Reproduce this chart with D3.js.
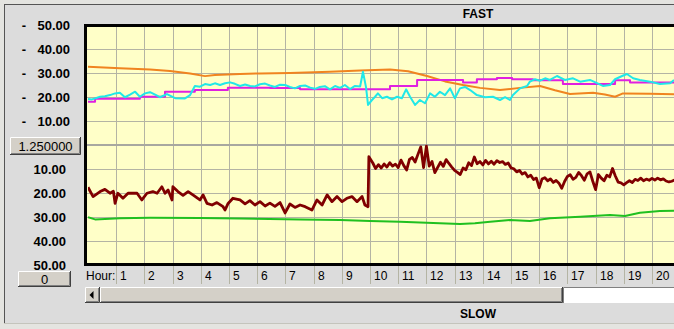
<!DOCTYPE html>
<html>
<head>
<meta charset="utf-8">
<script src="https://cdn.jsdelivr.net/npm/d3@7"></script>
<style>
  html, body { margin: 0; padding: 0; background: #e6e6e2; }
  svg { display: block; }
</style>
</head>
<body>
<svg id="chart" width="674" height="329"></svg>
<script>
// tick labels
const hourTicks = d3.range(1, 21);
const yTicks = [10, 20, 30, 40, 50];
const scaleButton = "1.250000";
const offsetButton = "0";

// FAST panel, [hour, value]
const orange = [[0,32.6],[1.13,32.0],[2.2,31.5],[2.91,30.8],[3.62,29.8],[4.15,28.7],[4.5,29.2],[5.39,29.6],
  [6.1,29.8],[7.16,30.0],[8.58,30.5],[9.65,31.0],[10.71,31.5],[11.35,30.7],[12.02,28.75],[12.66,26.5],
  [13.3,25.0],[13.9,23.8],[14.61,22.9],[15.32,23.8],[16.03,24.6],[16.56,22.8],[17.09,21.25],[17.91,21.8],
  [18.33,21.0],[18.69,20.1],[18.97,21.5],[19.93,21.4],[20.78,21.1]];

const magenta = [[0,18.0],[0.25,19.3],[1.84,20.1],[2.73,22.2],[3.79,22.9],[4.96,23.9],[6.45,23.7],[7.52,23.2],
  [10.71,24.6],[11.67,27.1],[13.3,26.0],[13.79,27.4],[14.5,27.9],[15.04,27.4],[15.78,27.0],[16.84,25.4],
  [18.69,27.0],[19.22,26.0],[20.78,25.7]];

const cyan = [[0,19.2],[0.14,19.0],[0.43,20.1],[0.6,20.3],[0.78,20.8],[0.96,21.5],[1.13,21.8],[1.31,19.9],
  [1.49,21.0],[1.67,22.2],[1.84,20.1],[2.02,21.5],[2.2,22.0],[2.38,21.0],[2.55,19.9],[2.8,21.2],[3.09,19.5],
  [3.44,19.4],[3.62,20.8],[3.79,24.6],[3.97,24.3],[4.15,25.4],[4.33,25.0],[4.5,25.7],[4.68,25.0],[4.86,25.7],
  [5.04,26.1],[5.21,25.5],[5.39,24.6],[5.57,25.2],[5.75,24.6],[5.92,24.4],[6.1,25.3],[6.28,25.6],[6.45,24.8],
  [6.63,24.2],[6.81,25.1],[6.99,25.0],[7.16,24.2],[7.34,23.6],[7.52,24.6],[7.7,24.8],[7.88,23.9],[8.05,23.4],
  [8.22,24.2],[8.4,24.5],[8.58,23.2],[8.76,24.6],[8.94,23.8],[9.11,25.0],[9.29,23.3],[9.47,24.6],
  [9.65,24.4],[9.75,30.5],[9.86,24.0],[9.93,16.7],[10.07,18.75],[10.18,20.1],[10.28,21.5],[10.43,19.5],
  [10.6,20.1],[10.78,19.0],[10.96,20.1],[11.13,19.5],[11.28,23.2],[11.42,20.1],[11.6,16.7],[11.77,18.75],
  [11.95,17.4],[12.13,21.5],[12.3,20.1],[12.48,22.2],[12.66,20.8],[12.84,23.6],[13.01,19.5],[13.19,23.6],
  [13.37,24.2],[13.55,22.9],[13.79,20.8],[14.08,19.9],[14.36,20.1],[14.61,18.75],[14.79,19.9],[14.96,18.75],
  [15.07,20.8],[15.32,23.6],[15.57,24.6],[15.67,26.4],[15.85,27.4],[16.03,26.8],[16.21,27.8],[16.38,27.1],
  [16.63,28.75],[16.91,27.1],[17.2,27.8],[17.45,26.4],[17.8,27.1],[18.05,25.8],[18.26,24.6],[18.51,25.0],
  [18.69,27.4],[18.94,28.75],[19.11,29.6],[19.33,27.8],[19.57,27.1],[19.93,26.4],[20.28,25.4],[20.64,25.7],
  [20.78,27.1]];

// SLOW panel (inverted scale), [hour, value]
const darkRed = [[0,17.6],[0.18,21.5],[0.43,19.4],[0.6,18.5],[0.78,20.1],[0.9,19.3],[0.96,24.3],[1.06,20.1],
  [1.24,22.2],[1.42,20.1],[1.74,20.1],[1.91,22.9],[2.09,20.1],[2.3,19.4],[2.45,20.1],[2.62,17.4],[2.73,20.1],
  [2.84,18.75],[2.98,22.9],[3.01,17.4],[3.19,19.4],[3.37,21.0],[3.55,19.4],[3.72,20.8],[3.97,22.9],[4.08,20.8],
  [4.22,24.3],[4.4,25.0],[4.57,24.0],[4.79,25.7],[4.86,27.1],[4.96,24.5],[5.14,22.2],[5.39,22.9],[5.57,24.5],
  [5.74,23.2],[5.92,25.0],[6.1,23.6],[6.28,25.4],[6.45,24.2],[6.63,25.6],[6.81,24.0],[6.99,28.3],[7.16,24.6],
  [7.34,26.0],[7.52,25.0],[7.7,25.7],[7.94,27.1],[8.12,22.9],[8.3,25.0],[8.48,20.8],[8.65,23.6],[8.83,21.5],
  [9.01,23.6],[9.18,22.2],[9.36,21.5],[9.54,23.6],[9.72,21.5],[9.82,25.0],[9.93,25.7],[9.96,4.9],
  [10.1,7.5],[10.2,9.8],[10.3,8.2],[10.4,9.6],[10.5,7.9],[10.6,9.2],[10.7,7.4],[10.8,8.8],[10.9,8.0],
  [11.0,9.4],[11.1,6.3],[11.2,8.6],[11.3,10.4],[11.4,6.0],[11.5,5.2],[11.6,7.1],[11.7,3.9],[11.8,0.8],
  [11.9,9.4],[12.0,0.5],[12.1,8.8],[12.2,6.9],[12.3,11.5],[12.4,9.3],[12.5,7.2],[12.6,8.9],[12.7,6.1],
  [12.8,7.7],[12.9,9.2],[13.0,10.6],[13.1,11.4],[13.2,12.3],[13.3,9.6],[13.4,10.3],[13.5,7.4],[13.6,8.6],
  [13.7,5.0],[13.8,7.8],[13.9,6.9],[14.0,8.3],[14.1,6.4],[14.2,7.9],[14.3,6.8],[14.4,8.0],[14.5,6.5],
  [14.6,7.3],[14.7,6.9],[14.8,8.1],[14.9,7.5],[15.0,9.5],[15.1,9.9],[15.2,11.2],[15.3,10.6],[15.4,12.1],
  [15.5,11.5],[15.6,13.3],[15.7,12.6],[15.8,14.4],[15.9,13.8],[16.0,17.8],[16.1,14.2],[16.2,13.6],
  [16.3,14.9],[16.4,14.1],[16.5,15.6],[16.6,14.8],[16.7,15.9],[16.8,18.0],[16.9,15.2],[17.0,13.1],
  [17.1,12.4],[17.2,14.3],[17.3,13.5],[17.4,11.4],[17.5,12.8],[17.6,14.7],[17.7,12.0],[17.8,11.2],
  [17.9,15.1],[18.0,18.6],[18.1,12.3],[18.2,13.8],[18.3,14.9],[18.4,12.6],[18.5,13.3],[18.6,9.8],
  [18.7,12.9],[18.8,15.5],[18.9,15.8],[19.0,16.6],[19.1,15.7],[19.2,14.9],[19.3,15.6],[19.4,14.3],
  [19.5,14.8],[19.6,13.8],[19.7,14.9],[19.8,14.2],[19.9,14.7],[20.0,13.9],[20.1,14.6],[20.2,13.8],
  [20.3,14.5],[20.4,14.1],[20.5,15.0],[20.6,15.4],[20.7,15.1],[20.8,14.6]];

const green = [[0,30.1],[0.25,31.0],[1.13,30.5],[2.2,30.3],[3.97,30.4],[5.39,30.6],[7.52,31.0],[8.94,31.3],
  [10.0,31.7],[11.06,32.0],[11.77,32.3],[12.48,32.6],[13.19,32.9],[13.72,32.6],[14.26,32.0],[14.96,31.25],
  [15.67,31.7],[16.38,30.5],[17.45,29.9],[18.51,29.2],[19.04,29.6],[19.57,28.2],[20.28,27.5],[20.78,27.4]];

const svg = d3.select("#chart");
const W = 674, H = 329;
const plot = {left: 87, right: 700, top: 25, mid: 145, bottom: 265};

const x = d3.scaleLinear().domain([0, 21]).range([88, 88 + 21 * 28.2]);
const yFast = d3.scaleLinear().domain([0, 50]).range([plot.mid, plot.top]);
const ySlow = d3.scaleLinear().domain([0, 50]).range([plot.mid, plot.bottom]);

// window chrome
svg.append("rect").attr("width", W).attr("height", H).attr("fill", "#e4e4e0");
svg.append("rect").attr("x", 4).attr("y", 4).attr("width", W - 4).attr("height", 319).attr("fill", "#dcdcdc");
svg.append("line").attr("x1", 4).attr("x2", W).attr("y1", 4.5).attr("y2", 4.5).attr("stroke", "#555");
svg.append("line").attr("x1", 4.5).attr("x2", 4.5).attr("y1", 4).attr("y2", 323).attr("stroke", "#555");
svg.append("line").attr("x1", 4).attr("x2", W).attr("y1", 323.5).attr("y2", 323.5).attr("stroke", "#c4c4bc");

// plot background
svg.append("rect").attr("x", plot.left).attr("y", plot.top)
  .attr("width", plot.right - plot.left).attr("height", plot.bottom - plot.top)
  .attr("fill", "#ffffc8");

// grid
const grid = svg.append("g").attr("stroke", "#b4b4a4").attr("stroke-width", 1);
grid.selectAll(".vx").data(hourTicks).join("line")
  .attr("x1", d => Math.round(x(d)) + 0.5).attr("x2", d => Math.round(x(d)) + 0.5)
  .attr("y1", plot.top).attr("y2", 284);
grid.selectAll(".hf").data(yTicks.slice(0, 4)).join("line")
  .attr("x1", plot.left).attr("x2", W)
  .attr("y1", d => Math.round(yFast(d)) + 0.5).attr("y2", d => Math.round(yFast(d)) + 0.5);
grid.selectAll(".hs").data(yTicks.slice(0, 4)).join("line")
  .attr("x1", plot.left).attr("x2", W)
  .attr("y1", d => Math.round(ySlow(d)) + 0.5).attr("y2", d => Math.round(ySlow(d)) + 0.5);
svg.append("line").attr("x1", plot.left).attr("x2", W).attr("y1", yFast(0)).attr("y2", yFast(0))
  .attr("stroke", "#a8a8a0").attr("stroke-width", 2);

// series
svg.append("clipPath").attr("id", "clip").append("rect")
  .attr("x", 88).attr("y", 27).attr("width", W).attr("height", 236);
const layer = svg.append("g").attr("clip-path", "url(#clip)").attr("fill", "none")
  .attr("stroke-linejoin", "round");

const lineFast = d3.line().x(d => x(d[0])).y(d => yFast(d[1]));
const lineSlow = d3.line().x(d => x(d[0])).y(d => ySlow(d[1]));
const stepFast = d3.line().curve(d3.curveStepAfter).x(d => x(d[0])).y(d => yFast(d[1]));

layer.append("path").datum(orange).attr("d", lineFast).attr("stroke", "#f08420").attr("stroke-width", 2);
layer.append("path").datum(magenta).attr("d", stepFast).attr("stroke", "#e020e0").attr("stroke-width", 2);
layer.append("path").datum(cyan).attr("d", lineFast).attr("stroke", "#20e8e8").attr("stroke-width", 2);
layer.append("path").datum(green).attr("d", lineSlow).attr("stroke", "#20c020").attr("stroke-width", 2);
layer.append("path").datum(darkRed).attr("d", lineSlow).attr("stroke", "#800000").attr("stroke-width", 2.8);

// plot frame
svg.append("rect").attr("x", 84).attr("y", 24).attr("width", W).attr("height", 3).attr("fill", "#000");
svg.append("rect").attr("x", 84).attr("y", 263).attr("width", W).attr("height", 3).attr("fill", "#000");
svg.append("rect").attr("x", 84).attr("y", 24).attr("width", 3).attr("height", 242).attr("fill", "#000");

// y labels
const labelFont = "'Liberation Sans', Arial, sans-serif";
svg.append("g").selectAll("text").data(yTicks).join("text")
  .attr("x", 70).attr("y", d => yFast(d)).attr("dy", "0.36em")
  .attr("text-anchor", "end").attr("font-family", labelFont).attr("font-weight", "bold")
  .attr("font-size", 13).text(d => d.toFixed(2));
svg.append("g").selectAll("text").data(yTicks).join("text")
  .attr("x", 26).attr("y", d => yFast(d)).attr("dy", "0.36em")
  .attr("text-anchor", "end").attr("font-family", labelFont).attr("font-weight", "bold")
  .attr("font-size", 13).text("-");
svg.append("g").selectAll("text").data(yTicks).join("text")
  .attr("x", 66).attr("y", d => ySlow(d)).attr("dy", "0.36em")
  .attr("text-anchor", "end").attr("font-family", labelFont).attr("font-weight", "bold")
  .attr("font-size", 13).text(d => d.toFixed(2));

// raised button helper
function button(x0, y0, w, h, label) {
  const g = svg.append("g");
  g.append("rect").attr("x", x0).attr("y", y0).attr("width", w).attr("height", h).attr("fill", "#d4d0c8");
  g.append("path").attr("d", `M${x0 + 0.5},${y0 + h - 1}V${y0 + 0.5}H${x0 + w - 1}`)
    .attr("stroke", "#fff").attr("fill", "none");
  g.append("path").attr("d", `M${x0},${y0 + h - 0.5}H${x0 + w - 0.5}V${y0}`)
    .attr("stroke", "#404040").attr("fill", "none");
  g.append("path").attr("d", `M${x0 + 1},${y0 + h - 1.5}H${x0 + w - 1.5}V${y0 + 1}`)
    .attr("stroke", "#808080").attr("fill", "none");
  if (label !== undefined) {
    g.append("text").attr("x", x0 + w / 2).attr("y", y0 + h / 2).attr("dy", "0.36em")
      .attr("text-anchor", "middle").attr("font-family", labelFont).attr("font-size", 13)
      .attr("fill", "#000").text(label);
  }
  return g;
}
button(10, 137, 71, 18, scaleButton);
button(18, 271, 53, 16, offsetButton);

// hour row
svg.append("text").attr("x", 86).attr("y", 280).attr("font-family", labelFont)
  .attr("font-size", 12).text("Hour:");
svg.append("g").selectAll("text").data(hourTicks).join("text")
  .attr("x", d => Math.round(x(d)) + 4).attr("y", 280)
  .attr("font-family", labelFont).attr("font-size", 12).text(d => d);

// scrollbar
svg.append("rect").attr("x", 563).attr("y", 287).attr("width", W - 563).attr("height", 16).attr("fill", "#fff");
svg.append("path").attr("d", `M563.5,303V287.5H${W}`).attr("stroke", "#808080").attr("fill", "none");
button(100, 287, 463, 16);
button(85, 287, 15, 16).append("path").attr("d", "M89.5,295L93.5,291V299Z").attr("fill", "#000");

// titles
svg.append("text").attr("x", 478).attr("y", 18).attr("text-anchor", "middle")
  .attr("font-family", labelFont).attr("font-weight", "bold").attr("font-size", 12).text("FAST");
svg.append("text").attr("x", 478).attr("y", 318).attr("text-anchor", "middle")
  .attr("font-family", labelFont).attr("font-weight", "bold").attr("font-size", 12).text("SLOW");
</script>
</body>
</html>
